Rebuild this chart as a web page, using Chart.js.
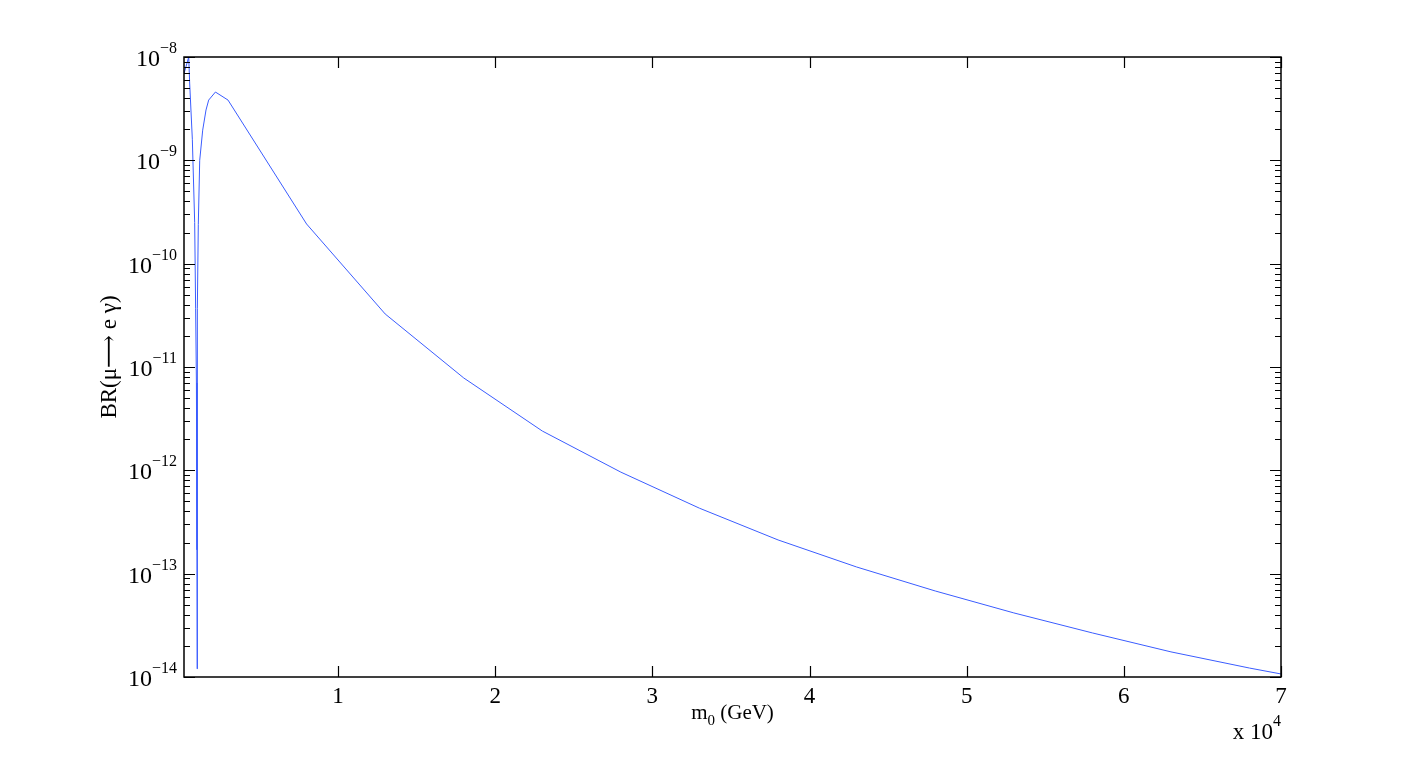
<!DOCTYPE html>
<html lang="en">
<head>
    <meta charset="UTF-8">
    <title>BR(mu -> e gamma) vs m0</title>
    <script src="https://cdn.jsdelivr.net/npm/chart.js"></script>
    <style>
        body { margin: 0; background: #fff; }
    </style>
</head>
<body>
    <canvas id="brChart" width="1416" height="761"></canvas>
    <script>
        // m0 values (GeV) and BR(mu -> e gamma)
        const m0 = [200, 500, 560, 730, 880, 940, 990, 1025, 1040, 1050, 1110, 1200, 1390, 1600, 1770, 2200, 3000,
                    8000, 13000, 18000, 23000, 28000, 33000, 38000, 43000, 48000, 53000, 58000, 63000, 68000, 70000];
        const br = [6.9e-9, 1.0e-8, 5.6e-9, 1.6e-9, 2.5e-10, 3.7e-11, 7e-12, 1.7e-13, 1.2e-14, 3.7e-11, 2.4e-10, 1.0e-9, 1.96e-9, 3.07e-9, 3.83e-9, 4.58e-9, 3.83e-9,
                    2.42e-10, 3.26e-11, 7.83e-12, 2.40e-12, 9.6e-13, 4.3e-13, 2.12e-13, 1.16e-13, 6.8e-14, 4.17e-14, 2.67e-14, 1.75e-14, 1.22e-14, 1.07e-14];

        // axis ticks
        const xTicks = [10000, 20000, 30000, 40000, 50000, 60000, 70000];
        const xTickLabels = ['1', '2', '3', '4', '5', '6', '7'];
        const yExponents = [-14, -13, -12, -11, -10, -9, -8];

        const serif = '"Liberation Serif", "DejaVu Serif", serif';

        // draws a Matlab-like box, inward ticks and labels with superscripts
        const matlabAxes = {
            id: 'matlabAxes',
            afterDraw(chart) {
                const ctx = chart.ctx;
                const a = chart.chartArea;
                const xs = chart.scales.x;
                const ys = chart.scales.y;
                ctx.save();
                ctx.strokeStyle = '#000';
                ctx.fillStyle = '#000';
                ctx.lineWidth = 1.5;
                ctx.strokeRect(a.left, a.top, a.right - a.left, a.bottom - a.top);

                ctx.lineWidth = 1.2;
                ctx.beginPath();
                // y ticks, both sides
                yExponents.forEach(e => {
                    const py = Math.round(ys.getPixelForValue(Math.pow(10, e))) + 0.5;
                    ctx.moveTo(a.left, py); ctx.lineTo(a.left + 11, py);
                    ctx.moveTo(a.right, py); ctx.lineTo(a.right - 11, py);
                    if (e < -8) {
                        for (let k = 2; k <= 9; k++) {
                            const pm = Math.round(ys.getPixelForValue(k * Math.pow(10, e))) + 0.5;
                            ctx.moveTo(a.left, pm); ctx.lineTo(a.left + 6, pm);
                            ctx.moveTo(a.right, pm); ctx.lineTo(a.right - 6, pm);
                        }
                    }
                });
                // x ticks, top and bottom
                xTicks.forEach(v => {
                    const px = Math.round(xs.getPixelForValue(v)) + 0.5;
                    ctx.moveTo(px, a.bottom); ctx.lineTo(px, a.bottom - 11);
                    ctx.moveTo(px, a.top); ctx.lineTo(px, a.top + 11);
                });
                ctx.stroke();

                // y tick labels 10^e
                yExponents.forEach(e => {
                    const py = ys.getPixelForValue(Math.pow(10, e));
                    const exp = '\u2212' + Math.abs(e);
                    ctx.font = '16px ' + serif;
                    const we = ctx.measureText(exp).width;
                    const right = a.left - 7;
                    ctx.textAlign = 'left';
                    ctx.textBaseline = 'alphabetic';
                    ctx.fillText(exp, right - we, py - 4);
                    ctx.font = '24px ' + serif;
                    ctx.textAlign = 'right';
                    ctx.fillText('10', right - we, py + 9);
                });

                // x tick labels
                ctx.font = '23px ' + serif;
                ctx.textAlign = 'center';
                ctx.textBaseline = 'alphabetic';
                xTicks.forEach((v, i) => {
                    ctx.fillText(xTickLabels[i], xs.getPixelForValue(v), 703);
                });

                // multiplier "x 10^4"
                ctx.font = '16px ' + serif;
                const w4 = ctx.measureText('4').width;
                ctx.textAlign = 'left';
                ctx.fillText('4', a.right - w4, 726);
                ctx.font = '23px ' + serif;
                ctx.textAlign = 'right';
                ctx.fillText('x 10', a.right - w4, 739);

                // x axis title m_0 (GeV)
                const cx = (a.left + a.right) / 2;
                ctx.font = '21px ' + serif;
                const wm = ctx.measureText('m').width;
                const wr = ctx.measureText(' (GeV)').width;
                ctx.font = '15px ' + serif;
                const w0 = ctx.measureText('0').width;
                const start = cx - (wm + w0 + wr) / 2;
                ctx.textAlign = 'left';
                ctx.font = '21px ' + serif;
                ctx.fillText('m', start, 719);
                ctx.fillText(' (GeV)', start + wm + w0, 719);
                ctx.font = '15px ' + serif;
                ctx.fillText('0', start + wm, 725);

                // y axis title
                ctx.translate(116, (a.top + a.bottom) / 2 - 10);
                ctx.rotate(-Math.PI / 2);
                ctx.font = '23px ' + serif;
                ctx.textAlign = 'center';
                ctx.fillText('BR(\u03bc\u27f6 e \u03b3)', 0, 0);
                ctx.restore();
            }
        };

        const points = m0.map((m, i) => ({ x: m, y: br[i] }));

        new Chart(document.getElementById('brChart').getContext('2d'), {
            type: 'line',
            data: {
                datasets: [{
                    data: points,
                    borderColor: '#3a5cff',
                    borderWidth: 1,
                    pointRadius: 0,
                    tension: 0,
                    fill: false
                }]
            },
            options: {
                responsive: false,
                animation: false,
                layout: { padding: { left: 184, right: 135, top: 57, bottom: 84 } },
                plugins: { legend: { display: false }, tooltip: { enabled: false } },
                scales: {
                    x: { type: 'linear', min: 200, max: 70000, display: false },
                    y: { type: 'logarithmic', min: 1e-14, max: 1e-8, display: false }
                }
            },
            plugins: [matlabAxes]
        });
    </script>
</body>
</html>
